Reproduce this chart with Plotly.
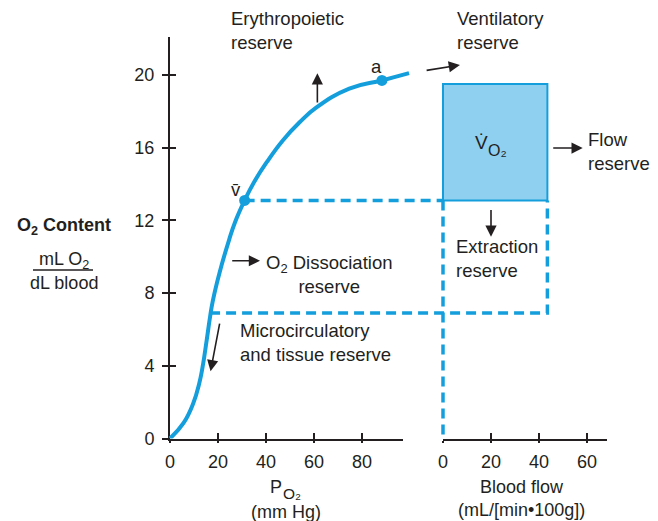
import plotly.graph_objects as go

# page is offset by the browser's default 8px body margin
OFF = 8
W, H = 650, 513

# ---------------- data ----------------
po2 = [0, 5.6, 9.7, 12.2, 13.6, 15.3, 16.7, 17.8, 20.7, 24.6, 27.1, 31.1, 35.0, 40.3, 47.0, 54.0, 60.9, 74.7, 88.3, 99.6]
o2_content = [0, 0.84, 1.94, 3.04, 3.95, 5.42, 6.70, 7.55, 9.15, 10.92, 11.9, 13.1, 14.1, 15.2, 16.4, 17.4, 18.2, 19.25, 19.7, 20.1]

venous_pt = (31.1, 13.1)      # v-bar (PO2, content)
arterial_pt = (88.3, 19.7)    # a
low_content = 6.9             # microcirculatory level
low_po2 = 16.7
vo2_flow = 43.5               # blood flow of VO2 box
vo2_top = 19.5
y_ticks = [0, 4, 8, 12, 16, 20]
po2_ticks = [0, 20, 40, 60, 80]
flow_ticks = [0, 20, 40, 60]

# ---------------- geometry (page pixels) ----------------
K = 2.4            # px per x unit
KY = 18.175        # px per y unit
XL0, XL1 = 170, 403
XR0, XR1 = 443, 607
YB, YT = 438.5, 36.7

def pxx(p):
    return (p - OFF) / W

def pxy(p):
    return 1 - (p - OFF) / H

left_dom = [pxx(XL0), pxx(XL1)]
right_dom = [pxx(XR0), pxx(XR1)]
y_dom = [pxy(YB), pxy(YT)]
left_rng = [0, (XL1 - XL0) / K]
right_rng = [0, (XR1 - XR0) / K]
y_rng = [0, (YB - YT) / KY]
glob_rng = [(OFF - XL0) / K, (OFF + W - XL0) / K]

def bf(v):
    """blood flow value -> global x coordinate"""
    return (XR0 - XL0) / K + v

BLUE = "#149fdc"
FILL = "#8fd0f1"
INK = "#231f20"
FONT = "Liberation Sans, Arial, Helvetica, sans-serif"

fig = go.Figure()

# dashed guide lines
dash = dict(color=BLUE, width=3.5, dash="10px,6px")
fig.add_trace(go.Scatter(x=[venous_pt[0], bf(0)], y=[venous_pt[1], venous_pt[1]],
                         mode="lines", line=dash, xaxis="x3", yaxis="y", hoverinfo="skip"))
fig.add_trace(go.Scatter(x=[bf(0), bf(0)], y=[venous_pt[1], 0],
                         mode="lines", line=dash, xaxis="x3", yaxis="y", hoverinfo="skip"))
fig.add_trace(go.Scatter(x=[low_po2, bf(vo2_flow), bf(vo2_flow)],
                         y=[low_content, low_content, venous_pt[1]],
                         mode="lines", line=dash, xaxis="x3", yaxis="y", hoverinfo="skip"))

# VO2 box
fig.add_trace(go.Scatter(x=[bf(0), bf(vo2_flow), bf(vo2_flow), bf(0), bf(0)],
                         y=[venous_pt[1], venous_pt[1], vo2_top, vo2_top, venous_pt[1]],
                         mode="lines", fill="toself", fillcolor=FILL,
                         line=dict(color=BLUE, width=2), xaxis="x3", yaxis="y", hoverinfo="skip"))

# dissociation curve
fig.add_trace(go.Scatter(x=po2, y=o2_content, mode="lines",
                         line=dict(color=BLUE, width=4, shape="spline", smoothing=1.3),
                         xaxis="x3", yaxis="y", hoverinfo="skip"))
fig.add_trace(go.Scatter(x=[venous_pt[0], arterial_pt[0]], y=[venous_pt[1], arterial_pt[1]], mode="markers",
                         marker=dict(color=BLUE, size=11), xaxis="x3", yaxis="y", hoverinfo="skip"))

# dummy traces to register axes
for xa in ["x", "x2", "x4", "x5"]:
    fig.add_trace(go.Scatter(x=[None], y=[None], xaxis=xa, yaxis="y", showlegend=False, hoverinfo="skip"))
fig.add_trace(go.Scatter(x=[None], y=[None], xaxis="x", yaxis="y2", showlegend=False, hoverinfo="skip"))

tickfont = dict(family=FONT, size=18, color=INK)
base_ax = dict(showgrid=False, zeroline=False, showline=True, linecolor=INK, linewidth=2, automargin=False,
               tickcolor=INK, tickwidth=1.5, tickfont=tickfont, fixedrange=True)
over_ax = dict(showgrid=False, zeroline=False, showline=False, ticks="inside", ticklen=6, automargin=False,
               tickcolor=INK, tickwidth=1.5, showticklabels=False, fixedrange=True)

fig.update_layout(
    template="none",
    width=W, height=H, margin=dict(l=0, r=0, t=0, b=0, pad=0),
    paper_bgcolor="white", plot_bgcolor="rgba(0,0,0,0)", showlegend=False,
    xaxis=dict(domain=left_dom, range=left_rng, anchor="y", tickvals=po2_ticks, ticks="outside", ticklen=2,
               ticklabelstandoff=4, **base_ax),
    xaxis4=dict(domain=left_dom, range=left_rng, anchor="y", overlaying="x", tickvals=po2_ticks, **over_ax),
    xaxis2=dict(domain=right_dom, range=right_rng, anchor="y", tickvals=flow_ticks, ticks="outside", ticklen=2,
                ticklabelstandoff=4, **base_ax),
    xaxis5=dict(domain=right_dom, range=right_rng, anchor="y", overlaying="x2", tickvals=flow_ticks, **over_ax),
    xaxis3=dict(domain=[0, 1], range=glob_rng, anchor="y", visible=False, fixedrange=True, automargin=False),
    yaxis=dict(domain=y_dom, range=y_rng, anchor="x", tickvals=y_ticks, ticks="outside", ticklen=6,
               ticklabelstandoff=4, **base_ax),
    yaxis2=dict(domain=y_dom, range=y_rng, anchor="x", overlaying="y", tickvals=y_ticks, **over_ax),
)

def label(text, x, y, xanchor="left", align="left", size=18.5):
    fig.add_annotation(text=text, x=pxx(x), y=pxy(y), xref="paper", yref="paper", showarrow=False,
                       xanchor=xanchor, yanchor="middle", align=align,
                       font=dict(family=FONT, size=size, color=INK))

label("Erythropoietic<br>reserve", 229, 31)
label("Ventilatory<br>reserve", 455, 31)
label("Flow<br>reserve", 586, 151.5)
label("V\u0307", 481.5, 142, xanchor="center", size=19)
label("O\u2082", 486, 151, xanchor="left", size=16)
label("Extraction<br>reserve", 454, 259)
label("O<sub>2</sub> Dissociation<br>reserve", 329, 274, xanchor="center", align="center")
label("Microcirculatory<br>and tissue reserve", 238, 342.5)
label("v\u0304", 236, 189, xanchor="center")
label("a", 376, 66, xanchor="center")
label("P", 276, 487, xanchor="center", size=18)
label("O\u2082", 281, 493, xanchor="left", size=15.5)
label("(mm Hg)", 286, 512, xanchor="center", size=18)
label("Blood flow", 522, 487, xanchor="center", size=18)
label("(mL/[min\u2022100g])", 521, 510, xanchor="center", size=18)
label("<b>O<sub>2</sub> Content</b>", 64, 226, xanchor="center", size=18)
label("mL O<sub>2</sub>", 64, 260, xanchor="center", size=18)
label("dL blood", 64, 283, xanchor="center", size=18)
fig.add_shape(type="line", xref="paper", yref="paper", x0=pxx(33), x1=pxx(93), y0=pxy(270), y1=pxy(270),
              line=dict(color=INK, width=1.5))

def arrow(x_head, y_head, x_tail, y_tail):
    fig.add_annotation(text="", x=x_head, y=y_head, ax=x_tail, ay=y_tail, xref="x3", yref="y",
                       axref="x3", ayref="y", showarrow=True, arrowhead=2, arrowsize=1.4,
                       arrowwidth=1.6, arrowcolor=INK, standoff=0, startstandoff=0)

arrow(61.4, 20.1, 61.4, 18.4)                 # erythropoietic
arrow(120.8, 20.55, 106.3, 20.24)             # ventilatory
arrow(bf(58.2), 15.98, bf(45.3), 15.98)       # flow
arrow(bf(20), 11.1, bf(20), 12.65)            # extraction
arrow(37.5, 9.78, 25.3, 9.78)                 # dissociation
arrow(16.9, 3.7, 20.8, 6.4)                   # microcirculatory

fig.write_html("out.html")
